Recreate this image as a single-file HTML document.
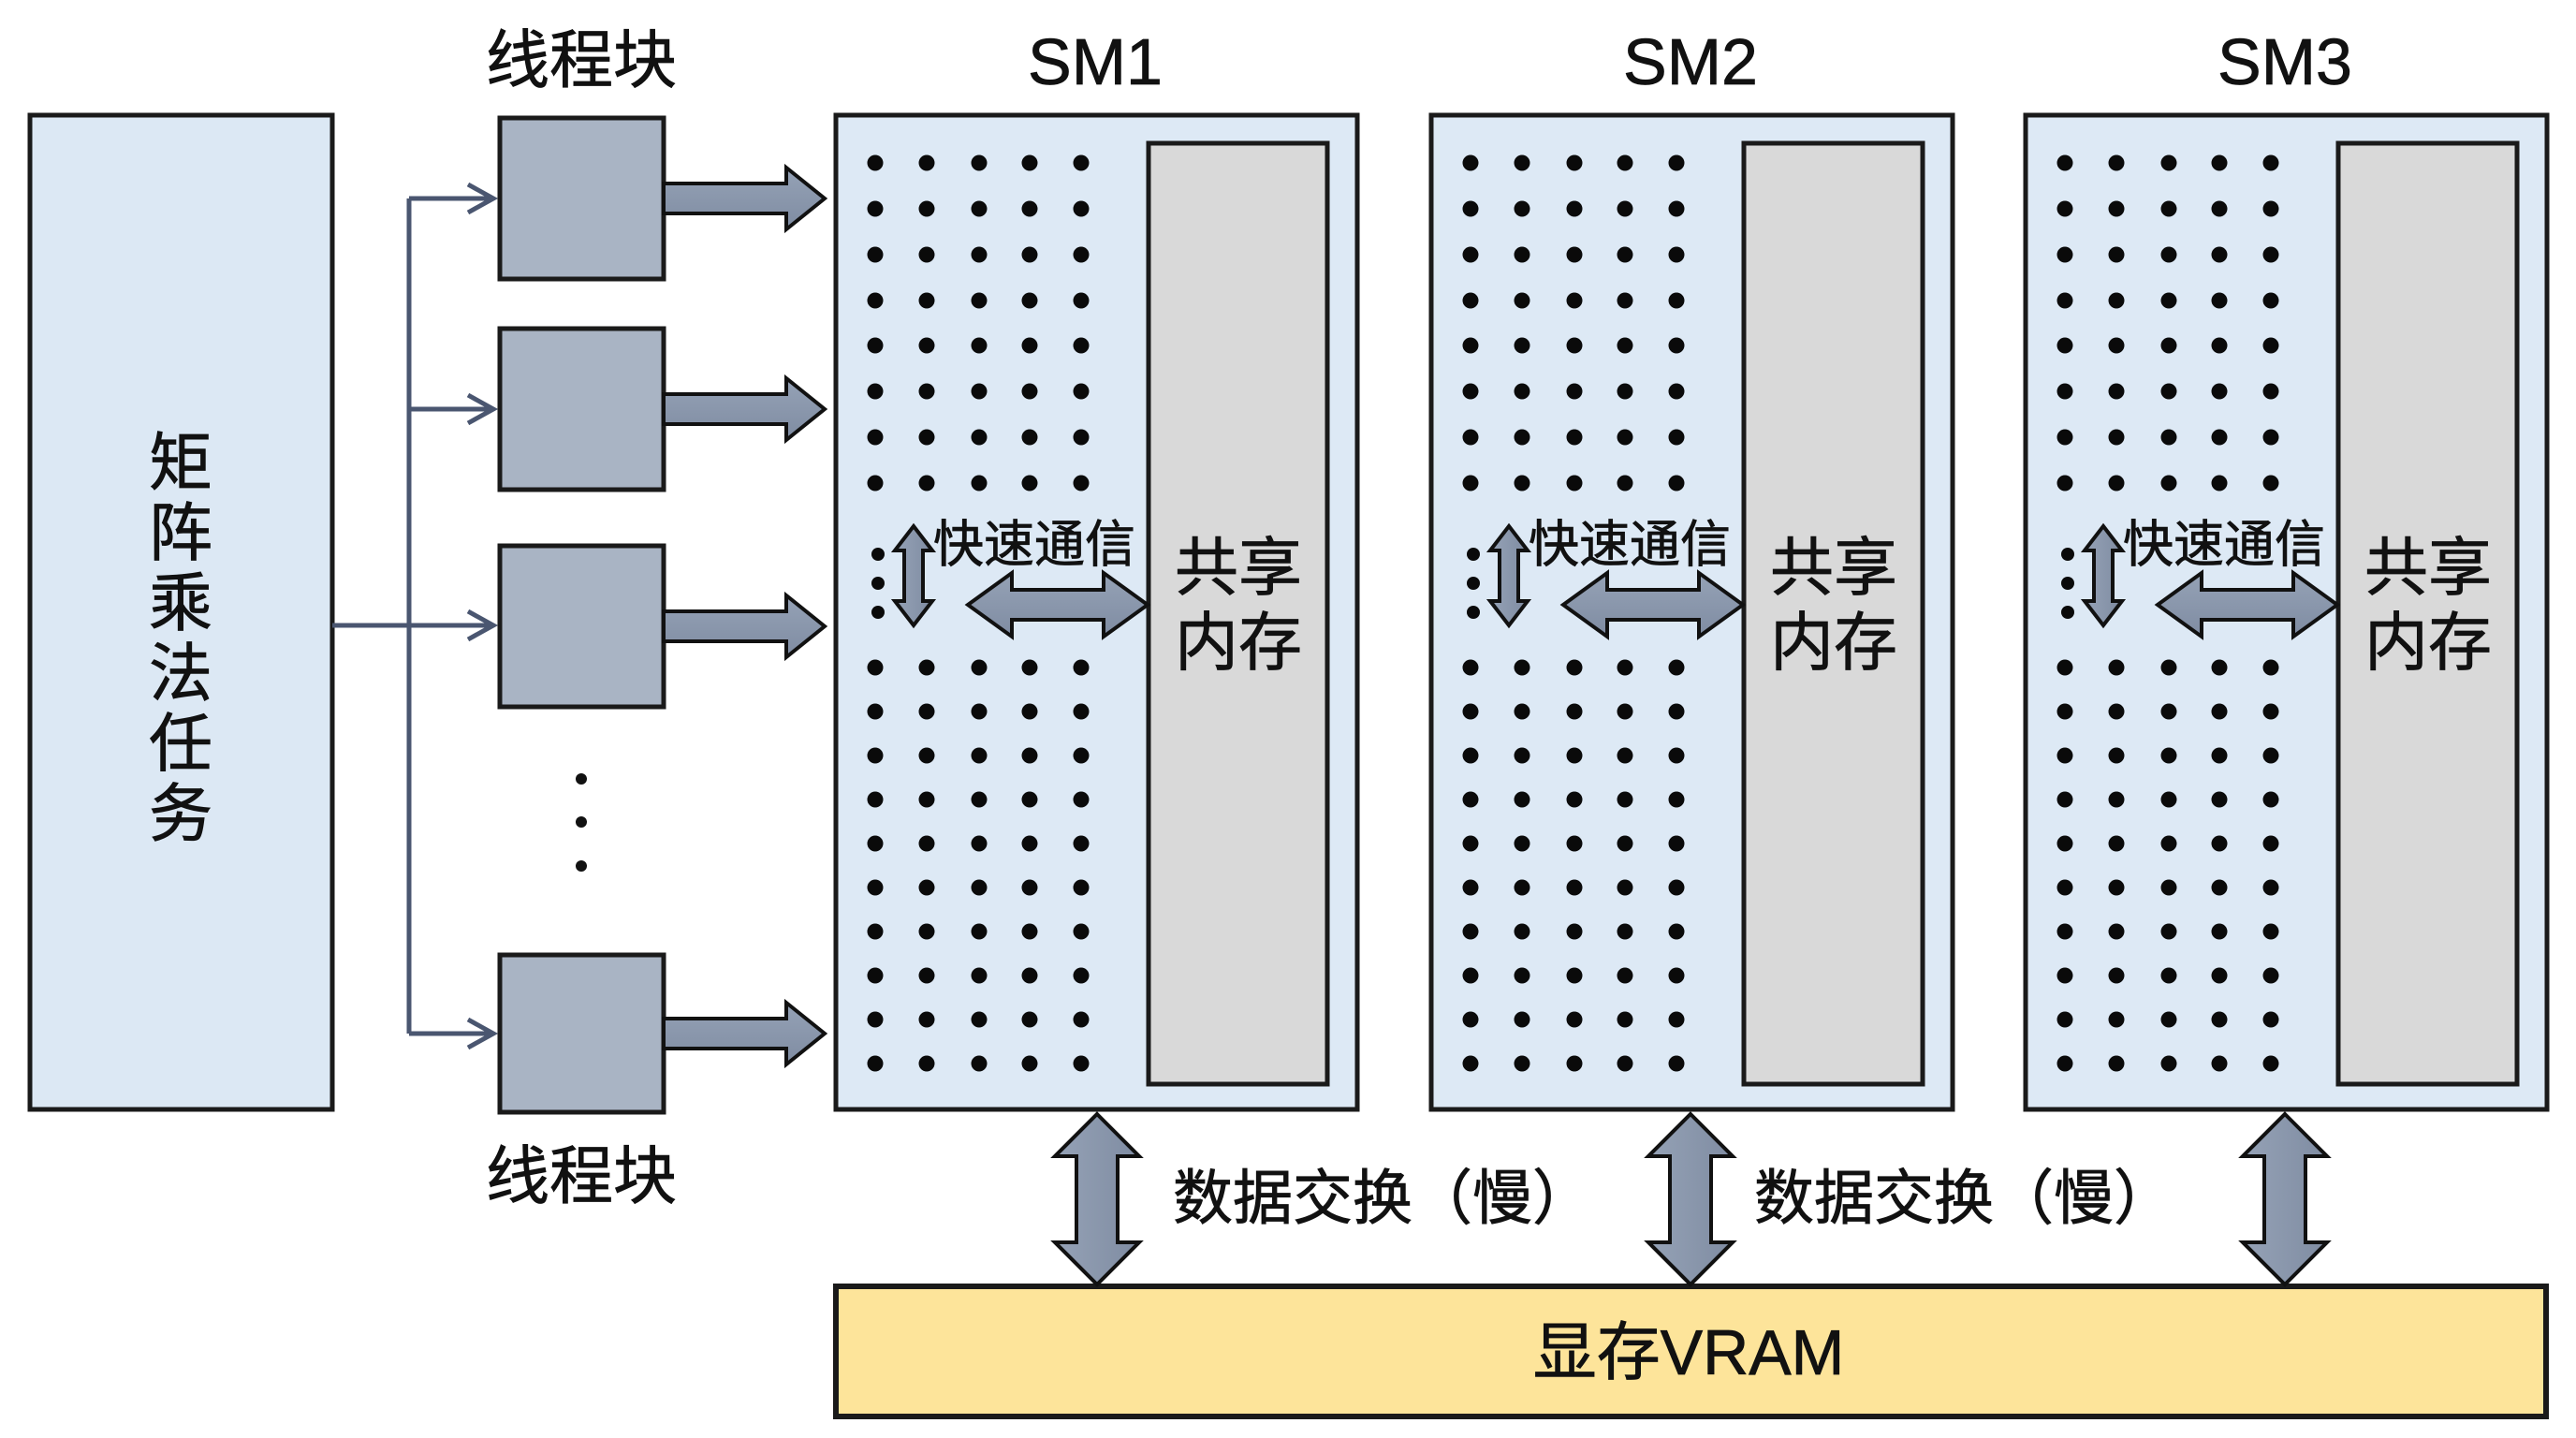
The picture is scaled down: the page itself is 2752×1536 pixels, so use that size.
<!DOCTYPE html>
<html><head><meta charset="utf-8">
<style>
html,body{margin:0;padding:0;background:#fff;}
svg{display:block;}
text{font-family:"Liberation Sans","Noto Sans CJK SC",sans-serif;fill:#111;stroke:#111;stroke-width:0.8;}
</style></head>
<body>
<svg id="s" width="2752" height="1536" viewBox="0 0 2752 1536" xmlns="http://www.w3.org/2000/svg">
<defs>
<linearGradient id="ag" x1="0" y1="0" x2="0" y2="1"><stop offset="0" stop-color="#95a2b6"/><stop offset="1" stop-color="#7f8ca2"/></linearGradient>
<linearGradient id="agh" x1="0" y1="0" x2="1" y2="0"><stop offset="0" stop-color="#95a2b6"/><stop offset="1" stop-color="#7f8ca2"/></linearGradient>
</defs>
<rect x="32" y="123" width="323" height="1062" fill="#dce8f4" stroke="#1a1a1a" stroke-width="5"/>
<g font-size="68" text-anchor="middle">
<text x="193" y="518">矩</text><text x="193" y="593">阵</text><text x="193" y="668">乘</text>
<text x="193" y="743">法</text><text x="193" y="818">任</text><text x="193" y="893">务</text>
</g>
<text x="621" y="88" font-size="68" text-anchor="middle">线程块</text>
<text x="621" y="1280" font-size="68" text-anchor="middle">线程块</text>
<text x="1170" y="90" font-size="70" text-anchor="middle">SM1</text>
<text x="1806" y="90" font-size="70" text-anchor="middle">SM2</text>
<text x="2441" y="90" font-size="70" text-anchor="middle">SM3</text>
<g stroke="#4a5670" stroke-width="5" fill="none">
<line x1="355" y1="668" x2="437" y2="668"/>
<line x1="437" y1="212" x2="437" y2="1104"/>
<line x1="437" y1="212" x2="526" y2="212"/><polyline points="500,197 527,212 500,227"/>
<line x1="437" y1="437" x2="526" y2="437"/><polyline points="500,422 527,437 500,452"/>
<line x1="437" y1="668" x2="526" y2="668"/><polyline points="500,653 527,668 500,683"/>
<line x1="437" y1="1104" x2="526" y2="1104"/><polyline points="500,1089 527,1104 500,1119"/>
</g>
<g fill="#a9b4c4" stroke="#1a1a1a" stroke-width="5">
<rect x="534" y="126" width="175" height="172"/>
<rect x="534" y="351" width="175" height="172"/>
<rect x="534" y="583" width="175" height="172"/>
<rect x="534" y="1020" width="175" height="168"/>
</g>
<g fill="#111"><circle cx="621" cy="832" r="6"/><circle cx="621" cy="878" r="6"/><circle cx="621" cy="925" r="6"/></g>
<rect x="893" y="1374" width="1827" height="139" fill="#fde49a" stroke="#1a1a1a" stroke-width="6"/>
<text x="1804" y="1468" font-size="68" text-anchor="middle">显存VRAM</text>
<text x="1253" y="1302" font-size="64">数据交换（慢）</text>
<text x="1874" y="1302" font-size="64">数据交换（慢）</text>
<g id="dyn"></g>
</svg>
<script>
var g=document.getElementById('dyn'),h='';
function rarrow(x0,x1,c,s,H,L){return '<polygon points="'+x0+','+(c-s)+' '+(x1-L)+','+(c-s)+' '+(x1-L)+','+(c-H)+' '+x1+','+c+' '+(x1-L)+','+(c+H)+' '+(x1-L)+','+(c+s)+' '+x0+','+(c+s)+'" fill="url(#ag)" stroke="#111" stroke-width="4" stroke-linejoin="miter"/>';}
function hd(x0,x1,c,s,H,L){return '<polygon points="'+x0+','+c+' '+(x0+L)+','+(c-H)+' '+(x0+L)+','+(c-s)+' '+(x1-L)+','+(c-s)+' '+(x1-L)+','+(c-H)+' '+x1+','+c+' '+(x1-L)+','+(c+H)+' '+(x1-L)+','+(c+s)+' '+(x0+L)+','+(c+s)+' '+(x0+L)+','+(c+H)+'" fill="url(#ag)" stroke="#111" stroke-width="4"/>';}
function vd(X,y0,y1,s,H,L){return '<polygon points="'+X+','+y0+' '+(X+H)+','+(y0+L)+' '+(X+s)+','+(y0+L)+' '+(X+s)+','+(y1-L)+' '+(X+H)+','+(y1-L)+' '+X+','+y1+' '+(X-H)+','+(y1-L)+' '+(X-s)+','+(y1-L)+' '+(X-s)+','+(y0+L)+' '+(X-H)+','+(y0+L)+'" fill="url(#agh)" stroke="#111" stroke-width="4"/>';}
[212,437,669,1104].forEach(function(c){h+=rarrow(709,881,c,16,33,41);});
var offs=[0,636,1271];
var rowsU=[174,223,272,321,369,418,467,516],rowsL=[];
for(var i=0;i<10;i++)rowsL.push(713+i*47);
var cols=[42,97,153,207,262];
offs.forEach(function(o,k){
 var L=893+o;
 h+='<rect x="'+L+'" y="123" width="557" height="1062" fill="#dde9f5" stroke="#1a1a1a" stroke-width="5"/>';
 h+='<rect x="'+(L+334)+'" y="153" width="191" height="1005" fill="#d9d9d9" stroke="#1a1a1a" stroke-width="5"/>';
 rowsU.concat(rowsL).forEach(function(y){cols.forEach(function(cx){h+='<circle cx="'+(L+cx)+'" cy="'+y+'" r="8.5" fill="#0a0a0a"/>';});});
 [592,623,654].forEach(function(y){h+='<circle cx="'+(L+45)+'" cy="'+y+'" r="7" fill="#0a0a0a"/>';});
 h+=vd(L+83,562,668,10,20,26);
 h+=hd(L+141,L+333,646,16,34,47);
 h+='<text x="'+(L+104)+'" y="600" font-size="54">快速通信</text>';
 h+='<text x="'+(L+430)+'" y="630" font-size="68" text-anchor="middle">共享</text>';
 h+='<text x="'+(L+430)+'" y="710" font-size="68" text-anchor="middle">内存</text>';
 var X=[1172,1806,2441][k];
 h+=vd(X,1190,1372,22,45,45);
});
g.innerHTML=h;
</script>
</body></html>
